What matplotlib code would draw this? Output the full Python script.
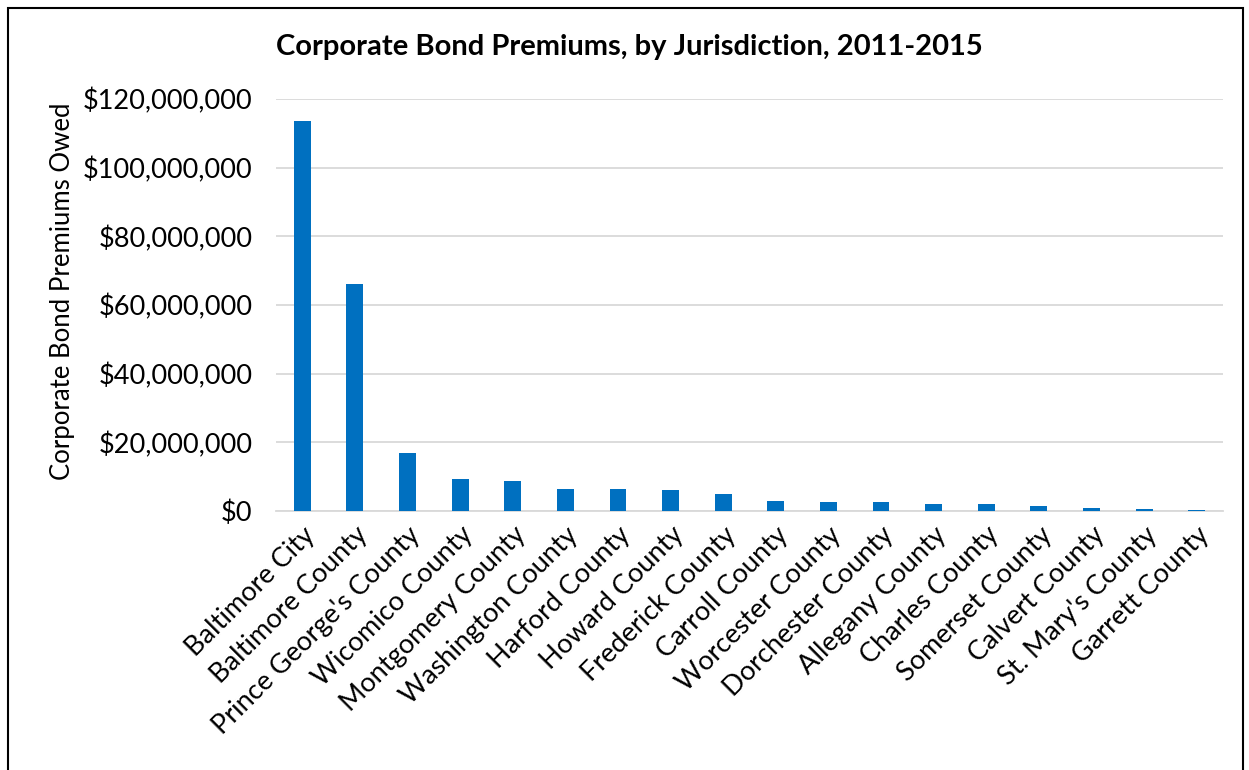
import matplotlib.pyplot as plt
from matplotlib.patches import Rectangle
from matplotlib.ticker import FuncFormatter

# округа и суммы премий (по графику)
jurisdictions = ["Baltimore City", "Baltimore County", "Prince George's County",
                 "Wicomico County", "Montgomery County", "Washington County",
                 "Harford County", "Howard County", "Frederick County",
                 "Carroll County", "Worcester County", "Dorchester County",
                 "Allegany County", "Charles County", "Somerset County",
                 "Calvert County", "St. Mary's County", "Garrett County"]
premiums = [113.7e6, 66.1e6, 16.8e6, 9.2e6, 8.8e6, 6.5e6, 6.4e6, 6.1e6, 5.0e6,
            2.8e6, 2.7e6, 2.5e6, 2.0e6, 1.9e6, 1.6e6, 1.0e6, 0.6e6, 0.15e6]
y_ticks = [0, 20e6, 40e6, 60e6, 80e6, 100e6, 120e6]

plt.rcParams['font.family'] = ['Lato', 'DejaVu Sans']

fig = plt.figure(figsize=(12.49, 7.7), dpi=100)
ax = fig.add_axes([276 / 1249, 1 - 511 / 770, 947 / 1249, 412 / 770])

x = range(len(jurisdictions))
ax.bar(x, premiums, width=0.32, color='#0070C0', zorder=3)

ax.set_xlim(-0.5, len(jurisdictions) - 0.5)
ax.set_ylim(0, 120e6)
ax.set_yticks(y_ticks)
ax.yaxis.set_major_formatter(FuncFormatter(lambda v, p: '${:,.0f}'.format(v)))
ax.set_xticks(list(x))
ax.set_xticklabels(jurisdictions, rotation=45, ha='right', rotation_mode='anchor')
ax.tick_params(axis='both', length=0, labelsize=19.5, colors='black')
ax.tick_params(axis='x', pad=8)
ax.tick_params(axis='y', pad=17)

ax.grid(axis='y', color='#d9d9d9', linewidth=1.3, zorder=0)
for s in ['top', 'right', 'left']:
    ax.spines[s].set_visible(False)
ax.spines['bottom'].set_color('#d9d9d9')
ax.spines['bottom'].set_linewidth(1.3)

ax.set_ylabel('Corporate Bond Premiums Owed', fontsize=18.5)
ax.yaxis.set_label_coords((75 - 276) / 947, (511 - 291) / 412)
fig.text(0.504, 1 - 47 / 770, 'Corporate Bond Premiums, by Jurisdiction, 2011-2015',
         ha='center', va='center', fontsize=21, fontweight='bold')

# рамка вокруг всей диаграммы (нижний край обрезан)
fig.patches.append(Rectangle((8 / 1249, -0.01), 1235 / 1249, 1.01 - 8 / 770,
                             transform=fig.transFigure, fill=False,
                             edgecolor='black', linewidth=1.5))

fig.savefig('out.png', dpi=100)
